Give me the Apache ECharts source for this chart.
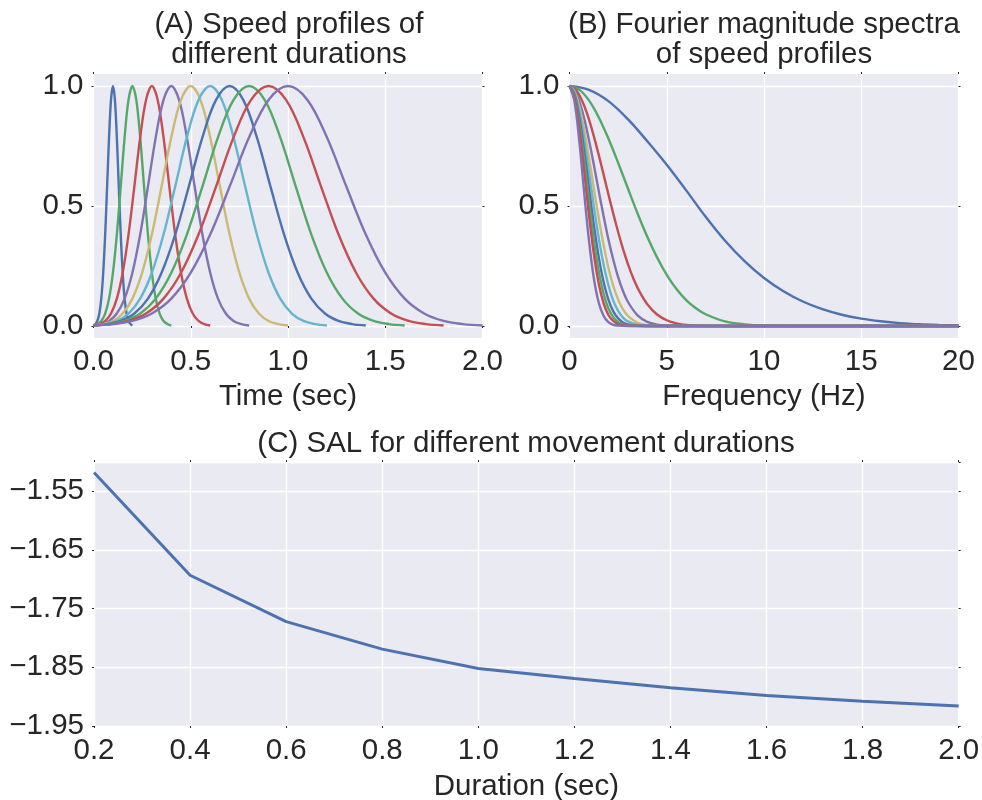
<!DOCTYPE html>
<html>
<head>
<meta charset="utf-8">
<script src="https://cdn.jsdelivr.net/npm/echarts/dist/echarts.min.js"></script>
<style>
  html, body { margin: 0; padding: 0; background: #ffffff; }
  #chart { width: 982px; height: 800px; }
</style>
</head>
<body>
<div id="chart"></div>
<script>
// ---------------- Data ----------------
var durations = [0.2, 0.4, 0.6, 0.8, 1.0, 1.2, 1.4, 1.6, 1.8, 2.0];

// (A) speed profiles: normalised speed values (same bell shape for every duration)
var speedValues = [0.002, 0.008, 0.021, 0.052, 0.114, 0.222, 0.381, 0.581, 0.786, 0.942, 1.000,
                   0.942, 0.786, 0.581, 0.381, 0.222, 0.114, 0.052, 0.021, 0.008, 0.002];
var timesT02 = [0,0.01,0.02,0.03,0.04,0.05,0.06,0.07,0.08,0.09,0.1,0.11,0.12,0.13,0.14,0.15,0.16,0.17,0.18,0.19,0.2];
var timesT04 = [0,0.02,0.04,0.06,0.08,0.1,0.12,0.14,0.16,0.18,0.2,0.22,0.24,0.26,0.28,0.3,0.32,0.34,0.36,0.38,0.4];
var timesT06 = [0,0.03,0.06,0.09,0.12,0.15,0.18,0.21,0.24,0.27,0.3,0.33,0.36,0.39,0.42,0.45,0.48,0.51,0.54,0.57,0.6];
var timesT08 = [0,0.04,0.08,0.12,0.16,0.2,0.24,0.28,0.32,0.36,0.4,0.44,0.48,0.52,0.56,0.6,0.64,0.68,0.72,0.76,0.8];
var timesT10 = [0,0.05,0.1,0.15,0.2,0.25,0.3,0.35,0.4,0.45,0.5,0.55,0.6,0.65,0.7,0.75,0.8,0.85,0.9,0.95,1.0];
var timesT12 = [0,0.06,0.12,0.18,0.24,0.3,0.36,0.42,0.48,0.54,0.6,0.66,0.72,0.78,0.84,0.9,0.96,1.02,1.08,1.14,1.2];
var timesT14 = [0,0.07,0.14,0.21,0.28,0.35,0.42,0.49,0.56,0.63,0.7,0.77,0.84,0.91,0.98,1.05,1.12,1.19,1.26,1.33,1.4];
var timesT16 = [0,0.08,0.16,0.24,0.32,0.4,0.48,0.56,0.64,0.72,0.8,0.88,0.96,1.04,1.12,1.2,1.28,1.36,1.44,1.52,1.6];
var timesT18 = [0,0.09,0.18,0.27,0.36,0.45,0.54,0.63,0.72,0.81,0.9,0.99,1.08,1.17,1.26,1.35,1.44,1.53,1.62,1.71,1.8];
var timesT20 = [0,0.1,0.2,0.3,0.4,0.5,0.6,0.7,0.8,0.9,1.0,1.1,1.2,1.3,1.4,1.5,1.6,1.7,1.8,1.9,2.0];
var speedTimes = [timesT02, timesT04, timesT06, timesT08, timesT10, timesT12, timesT14, timesT16, timesT18, timesT20];

// (B) Fourier magnitude spectra: [frequency (Hz), magnitude]
var specT02 = [[0,1],[1,0.984],[2,0.937],[3,0.862],[4,0.77],[5,0.672],[6,0.565],[7,0.455],[8,0.355],[9,0.27],[10,0.2],[11,0.145],[12,0.102],[13,0.07],[14,0.047],[15,0.031],[16,0.02],[17,0.012],[18,0.007],[19,0.004],[20,0.002]];
var specT04 = [[0,1],[0.5,0.985],[1,0.94],[1.5,0.87],[2,0.781],[2.5,0.68],[3,0.574],[3.5,0.469],[4,0.372],[4.5,0.286],[5,0.213],[5.5,0.154],[6,0.108],[6.5,0.074],[7,0.049],[8,0.019],[9,0.007],[10,0.002],[12,0],[20,0]];
var specT06 = [[0,1],[0.3,0.987],[0.6,0.947],[0.9,0.886],[1.2,0.806],[1.5,0.714],[1.8,0.615],[2.1,0.516],[2.4,0.422],[2.7,0.335],[3,0.259],[3.3,0.195],[3.6,0.143],[4,0.091],[4.5,0.048],[5,0.024],[5.5,0.011],[6,0.0045],[7,0.0006],[9,0],[20,0]];
var specT08 = [[0,1],[0.25,0.984],[0.5,0.938],[0.75,0.866],[1,0.775],[1.25,0.672],[1.5,0.564],[1.75,0.459],[2,0.361],[2.25,0.276],[2.5,0.204],[2.75,0.146],[3,0.101],[3.5,0.044],[4,0.017],[4.5,0.006],[5,0.002],[6,0],[20,0]];
var specT10 = [[0,1],[0.25,0.978],[0.5,0.915],[0.75,0.82],[1,0.702],[1.25,0.575],[1.5,0.451],[1.75,0.339],[2,0.243],[2.25,0.167],[2.5,0.11],[2.75,0.069],[3,0.042],[3.5,0.013],[4,0.0035],[5,0],[20,0]];
var specT12 = [[0,1],[0.25,0.973],[0.5,0.895],[0.75,0.779],[1,0.642],[1.25,0.5],[1.5,0.368],[1.75,0.257],[2,0.17],[2.25,0.106],[2.5,0.063],[2.75,0.035],[3,0.019],[3.5,0.0044],[4,0.0008],[5,0],[20,0]];
var specT14 = [[0,1],[0.25,0.966],[0.5,0.871],[0.75,0.733],[1,0.575],[1.25,0.422],[1.5,0.289],[1.75,0.184],[2,0.11],[2.25,0.061],[2.5,0.032],[2.75,0.015],[3,0.007],[3.5,0.001],[4.5,0],[20,0]];
var specT16 = [[0,1],[0.25,0.96],[0.5,0.849],[0.75,0.693],[1,0.521],[1.25,0.36],[1.5,0.23],[1.75,0.135],[2,0.073],[2.25,0.037],[2.5,0.017],[2.75,0.007],[3,0.003],[4,0],[20,0]];
var specT18 = [[0,1],[0.25,0.953],[0.5,0.825],[0.75,0.649],[1,0.464],[1.25,0.301],[1.5,0.178],[1.75,0.095],[2,0.046],[2.25,0.021],[2.5,0.008],[2.75,0.003],[3,0.001],[4,0],[20,0]];
var specT20 = [[0,1],[0.25,0.938],[0.5,0.773],[0.75,0.56],[1,0.357],[1.25,0.2],[1.5,0.098],[1.75,0.043],[2,0.016],[2.25,0.005],[2.5,0.002],[3,0],[4,0],[20,0]];
var spectra = [specT02, specT04, specT06, specT08, specT10, specT12, specT14, specT16, specT18, specT20];

// (C) SAL for each duration
var salDurations = [0.2, 0.4, 0.6, 0.8, 1.0, 1.2, 1.4, 1.6, 1.8, 2.0];
var salValues = [-1.518, -1.693, -1.772, -1.819, -1.852, -1.869, -1.885, -1.898, -1.908, -1.916];

// Tick settings
var timeTicks = {min: 0, max: 2, interval: 0.5};
var freqTicks = {min: 0, max: 20, interval: 5};
var unitTicks = {min: 0, max: 1, interval: 0.5};
var salXTicks = {min: 0.2, max: 2.0, interval: 0.2};
var salYTicks = {min: -1.95, max: -1.5, interval: 0.1};

// ---------------- Styling ----------------
var palette = ['#4C72B0', '#55A868', '#C44E52', '#8172B2', '#CCB974', '#64B5CD',
               '#4C72B0', '#55A868', '#C44E52', '#8172B2'];
var TXT = '#262626';
var FONT = 'Liberation Sans';
var FS = 29.5;
var BG = '#EAEAF2';

function gridLine() { return {show: true, lineStyle: {color: '#ffffff', width: 1.3}}; }
function tickDots() { return {show: true, length: 2, inside: false, lineStyle: {color: TXT, width: 1}}; }
var noLine = {show: false};

var grids = [
  {left: 93.5, top: 74, width: 389, height: 264, show: true, backgroundColor: BG, borderWidth: 0, outerBoundsMode: 'none'},  // A outer
  {left: 93.5, top: 86, width: 389, height: 240, show: false, outerBoundsMode: 'none'},                                    // A inner
  {left: 569.5, top: 74, width: 389, height: 264, show: true, backgroundColor: BG, borderWidth: 0, outerBoundsMode: 'none'}, // B outer
  {left: 569.5, top: 86, width: 389, height: 240, show: false, outerBoundsMode: 'none'},                                   // B inner
  {left: 94, top: 462, width: 864.7, height: 264, show: true, backgroundColor: BG, borderWidth: 0, outerBoundsMode: 'none'}  // C
];

function labelStyle(margin, fmt) {
  return {show: true, color: TXT, fontFamily: FONT, fontSize: FS, margin: margin, formatter: fmt,
          showMinLabel: true, showMaxLabel: true, hideOverlap: false};
}
function fmt1(v) { return Number(v).toFixed(1); }
function fmt0(v) { return String(Math.round(v)); }
function fmtNeg2(v) { return (v < 0 ? '\u2212' : '') + Math.abs(v).toFixed(2); }

var xAxes = [
  // 0: A bottom
  Object.assign({type: 'value', gridIndex: 0, position: 'bottom', name: 'Time (sec)', nameLocation: 'middle', nameGap: 44,
    nameTextStyle: {color: TXT, fontFamily: FONT, fontSize: FS},
    axisLine: noLine, axisTick: tickDots(), splitLine: gridLine(), axisLabel: labelStyle(8.5, fmt1)}, timeTicks),
  // 1: A top ticks
  Object.assign({type: 'value', gridIndex: 0, position: 'top', axisLine: noLine, axisTick: tickDots(),
    splitLine: {show: false}, axisLabel: {show: false}}, timeTicks),
  // 2: A inner (data)
  Object.assign({type: 'value', gridIndex: 1, show: false}, timeTicks),
  // 3: B bottom
  Object.assign({type: 'value', gridIndex: 2, position: 'bottom', name: 'Frequency (Hz)', nameLocation: 'middle', nameGap: 44,
    nameTextStyle: {color: TXT, fontFamily: FONT, fontSize: FS},
    axisLine: noLine, axisTick: tickDots(), splitLine: gridLine(), axisLabel: labelStyle(8.5, fmt0)}, freqTicks),
  // 4: B top ticks
  Object.assign({type: 'value', gridIndex: 2, position: 'top', axisLine: noLine, axisTick: tickDots(),
    splitLine: {show: false}, axisLabel: {show: false}}, freqTicks),
  // 5: B inner (data)
  Object.assign({type: 'value', gridIndex: 3, show: false}, freqTicks),
  // 6: C bottom
  Object.assign({type: 'value', gridIndex: 4, position: 'bottom', name: 'Duration (sec)', nameLocation: 'middle', nameGap: 45.5,
    nameTextStyle: {color: TXT, fontFamily: FONT, fontSize: FS},
    axisLine: noLine, axisTick: tickDots(), splitLine: gridLine(), axisLabel: labelStyle(10, fmt1)}, salXTicks),
  // 7: C top ticks
  Object.assign({type: 'value', gridIndex: 4, position: 'top', axisLine: noLine, axisTick: tickDots(),
    splitLine: {show: false}, axisLabel: {show: false}}, salXTicks)
];

var yAxes = [
  // 0: A outer (hidden)
  {type: 'value', gridIndex: 0, min: -0.05, max: 1.05, show: false},
  // 1: A inner left
  Object.assign({type: 'value', gridIndex: 1, position: 'left', axisLine: noLine, axisTick: tickDots(),
    splitLine: gridLine(), axisLabel: labelStyle(10, fmt1)}, unitTicks),
  // 2: A inner right ticks
  Object.assign({type: 'value', gridIndex: 1, position: 'right', axisLine: noLine, axisTick: tickDots(),
    splitLine: {show: false}, axisLabel: {show: false}}, unitTicks),
  // 3: B outer (hidden)
  {type: 'value', gridIndex: 2, min: -0.05, max: 1.05, show: false},
  // 4: B inner left
  Object.assign({type: 'value', gridIndex: 3, position: 'left', axisLine: noLine, axisTick: tickDots(),
    splitLine: gridLine(), axisLabel: labelStyle(10, fmt1)}, unitTicks),
  // 5: B inner right ticks
  Object.assign({type: 'value', gridIndex: 3, position: 'right', axisLine: noLine, axisTick: tickDots(),
    splitLine: {show: false}, axisLabel: {show: false}}, unitTicks),
  // 6: C left
  Object.assign({type: 'value', gridIndex: 4, position: 'left', axisLine: noLine, axisTick: tickDots(),
    splitLine: gridLine(), axisLabel: Object.assign(labelStyle(10, fmtNeg2), {showMaxLabel: false})}, salYTicks),
  // 7: C right ticks
  Object.assign({type: 'value', gridIndex: 4, position: 'right', axisLine: noLine, axisTick: tickDots(),
    splitLine: {show: false}, axisLabel: {show: false}}, salYTicks)
];

var series = [];
durations.forEach(function (d, i) {
  var pts = speedTimes[i].map(function (t, k) { return [t, speedValues[k]]; });
  series.push({type: 'line', name: 'A ' + d, xAxisIndex: 2, yAxisIndex: 1, data: pts, smooth: 0.35,
    showSymbol: false, symbol: 'none', clip: false, lineStyle: {color: palette[i], width: 2.4}, itemStyle: {color: palette[i]}});
});
durations.forEach(function (d, i) {
  series.push({type: 'line', name: 'B ' + d, xAxisIndex: 5, yAxisIndex: 4, data: spectra[i], smooth: 0.35,
    showSymbol: false, symbol: 'none', clip: false, lineStyle: {color: palette[i], width: 2.4}, itemStyle: {color: palette[i]}});
});
series.push({type: 'line', name: 'SAL', xAxisIndex: 6, yAxisIndex: 6,
  data: salDurations.map(function (d, i) { return [d, salValues[i]]; }),
  showSymbol: false, symbol: 'none', lineStyle: {color: '#4C72B0', width: 3}, itemStyle: {color: '#4C72B0'}});

function titleText(x, y, text) {
  return {type: 'text', x: x, y: y, silent: true,
    style: {text: text, fill: TXT, font: FS + 'px "' + FONT + '"', textAlign: 'center', textVerticalAlign: 'middle'}};
}

var option = {
  animation: false,
  backgroundColor: '#ffffff',
  textStyle: {fontFamily: FONT, color: TXT},
  grid: grids,
  xAxis: xAxes,
  yAxis: yAxes,
  series: series,
  graphic: [
    titleText(289, 25.3, '(A) Speed profiles of'),
    titleText(289, 54.8, 'different durations'),
    titleText(764, 25.3, '(B) Fourier magnitude spectra'),
    titleText(764, 54.8, 'of speed profiles'),
    titleText(526, 443.5, '(C) SAL for different movement durations')
  ]
};

var chart = echarts.init(document.getElementById('chart'), null, {renderer: 'canvas'});
chart.setOption(option);
</script>
</body>
</html>
